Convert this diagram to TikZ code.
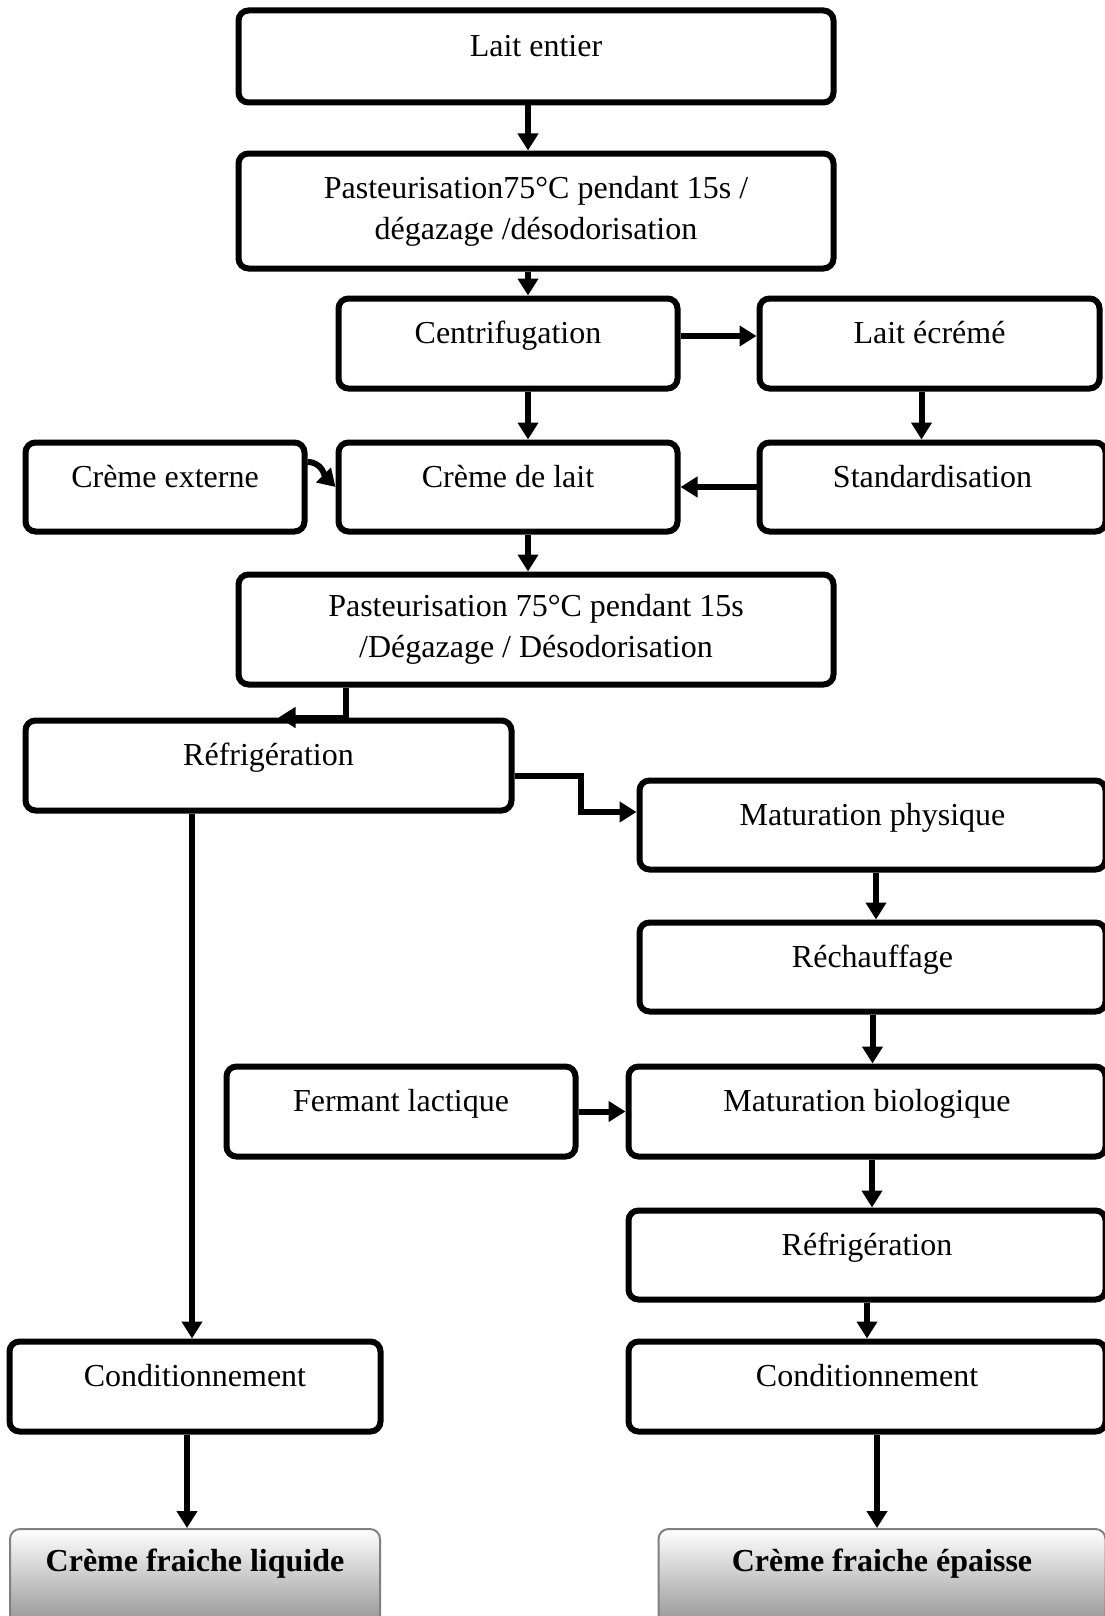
\documentclass[tikz,border=0pt]{standalone}
\usepackage{fontspec}
\setmainfont{Liberation Serif}
\usetikzlibrary{arrows.meta}

\begin{document}
\begin{tikzpicture}[
      x=0.5pt, y=-0.5pt,
      every node/.style={font=\fontsize{16pt}{20.6pt}\selectfont},
      proc/.style={draw=black, line width=3pt, rounded corners=5pt, fill=white, inner sep=0pt, text height=12pt, text depth=12pt},
      proctwo/.style={draw=black, line width=3pt, rounded corners=5pt, fill=white, inner sep=0pt, align=center},
      final/.style={draw=black!50, line width=1pt, rounded corners=5pt, top color=white, bottom color=black!42, inner sep=0pt, text height=12pt, text depth=18pt, font=\fontsize{16pt}{20.6pt}\selectfont\bfseries},
      flow/.style={line width=3pt, -{Triangle[length=8.5pt,width=10pt]}}
    ]
    \useasboundingbox (0,0) rectangle (1104,1616);

    \node[proc, minimum width=297.5pt, minimum height=46pt] (lait) at (536,56.5) {Lait entier};
    \node[proctwo, minimum width=297.5pt, minimum height=57.5pt] (past1) at (536,211) {Pasteurisation75°C pendant 15s /\\dégazage /désodorisation};

    \node[proc, minimum width=169.5pt, minimum height=45pt] (centrif) at (508,343.5) {Centrifugation};
    \node[proc, minimum width=170pt, minimum height=45pt] (ecreme) at (929.5,343.5) {Lait écrémé};

    \node[proc, minimum width=139.5pt, minimum height=44.5pt] (externe) at (165,487) {Crème externe};
    \node[proc, minimum width=169.5pt, minimum height=44.5pt] (cremelait) at (508,487) {Crème de lait};
    \node[proc, minimum width=173pt, minimum height=44.5pt] (standard) at (932.5,487) {Standardisation};

    \node[proctwo, minimum width=297.5pt, minimum height=55pt] (past2) at (536,629.5) {Pasteurisation 75°C pendant 15s\\/Dégazage / Désodorisation};

    \node[proc, minimum width=243pt, minimum height=45pt] (refrig1) at (268.5,765.5) {Réfrigération};
    \node[proc, minimum width=233pt, minimum height=44.5pt] (matphys) at (872.5,825) {Maturation physique};
    \node[proc, minimum width=233pt, minimum height=44.5pt] (rechauf) at (872.5,967) {Réchauffage};

    \node[proc, minimum width=174.5pt, minimum height=45pt] (ferment) at (401,1111.5) {Fermant lactique};
    \node[proc, minimum width=238.5pt, minimum height=45pt] (matbio) at (867,1111.5) {Maturation biologique};
    \node[proc, minimum width=238.5pt, minimum height=44.5pt] (refrig2) at (867,1255) {Réfrigération};

    \node[proc, minimum width=185.5pt, minimum height=45pt] (condL) at (195,1386.5) {Conditionnement};
    \node[proc, minimum width=238.5pt, minimum height=45pt] (condR) at (867,1386.5) {Conditionnement};

    \node[final, minimum width=185pt, minimum height=48pt] (liquide) at (195,1577) {Crème fraiche liquide};
    \node[final, minimum width=223.5pt, minimum height=48pt] (epaisse) at (882,1577) {Crème fraiche épaisse};

    \draw[flow] ([xshift=-4pt]lait.south) -- ([xshift=-4pt]past1.north);
    \draw[flow] ([xshift=-4pt]past1.south) -- ([xshift=-4pt]past1.south |- centrif.north);
    \draw[flow] ([yshift=3.75pt]centrif.east) -- ([yshift=3.75pt]centrif.east -| ecreme.west);
    \draw[flow] ([xshift=10pt]centrif.south) -- ([xshift=10pt]cremelait.north);
    \draw[flow] ([xshift=-4pt]ecreme.south) -- ([xshift=-4pt]ecreme.south |- standard.north);
    \draw[flow] (standard.west) -- (cremelait.east);
    \draw[flow] ([yshift=12.5pt]externe.east) to[out=0,in=135] (cremelait.west);
    \draw[flow] ([xshift=10pt]cremelait.south) -- ([xshift=10pt]cremelait.south |- past2.north);
    \draw[flow] ([xshift=-95pt]past2.south) |- ([xshift=5pt]refrig1.north);
    \draw[flow] ([yshift=-5.25pt]refrig1.east) -- ++(33pt,0) |- ([yshift=6.5pt]matphys.west);
    \draw[flow] ([xshift=-38.25pt]refrig1.south) -- ([xshift=-38.25pt]refrig1.south |- condL.north);
    \draw[flow] ([xshift=1.75pt]matphys.south) -- ([xshift=1.75pt]rechauf.north);
    \draw[flow] (rechauf.south) -- (rechauf.south |- matbio.north);
    \draw[flow] (ferment.east) -- (matbio.west);
    \draw[flow] ([xshift=2.5pt]matbio.south) -- ([xshift=2.5pt]refrig2.north);
    \draw[flow] (refrig2.south) -- (condR.north);
    \draw[flow] ([xshift=-4pt]condL.south) -- ([xshift=-4pt]liquide.north);
    \draw[flow] ([xshift=5pt]condR.south) -- ([xshift=5pt]condR.south |- epaisse.north);

  \end{tikzpicture}
\end{document}
